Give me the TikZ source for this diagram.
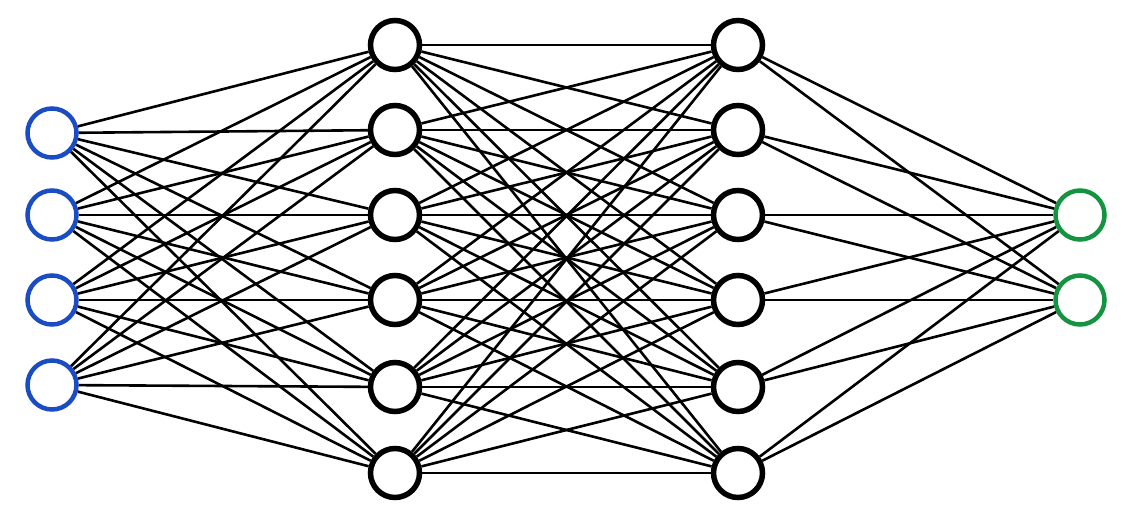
\documentclass[tikz,border=0pt]{standalone}
\definecolor{inblue}{HTML}{1A4CC4}
\definecolor{outgreen}{HTML}{149440}
\begin{document}
\begin{tikzpicture}[x=1pt,y=-1pt,
  neuron/.style={circle,draw,fill=white,minimum size=49pt,inner sep=0pt,line width=5.5pt},
  inneuron/.style={neuron,draw=inblue,line width=4.5pt},
  outneuron/.style={neuron,draw=outgreen,line width=4.5pt},
  edge/.style={line width=2.6pt,black}]
\useasboundingbox (0,0) rectangle (1137,526);
\foreach \y [count=\i] in {133,215,300,385} \node[inneuron] (a\i) at (52,\y) {};
\foreach \y [count=\i] in {45,130,215,300,387,473} {
  \node[neuron] (b\i) at (395,\y) {};
  \node[neuron] (c\i) at (738,\y) {};
}
\foreach \y [count=\i] in {215,300} \node[outneuron] (d\i) at (1080,\y) {};
\foreach \i in {1,...,4} \foreach \j in {1,...,6} \draw[edge] (a\i) -- (b\j);
\foreach \i in {1,...,6} \foreach \j in {1,...,6} \draw[edge] (b\i) -- (c\j);
\foreach \i in {1,...,6} \foreach \j in {1,2} \draw[edge] (c\i) -- (d\j);
\end{tikzpicture}
\end{document}
